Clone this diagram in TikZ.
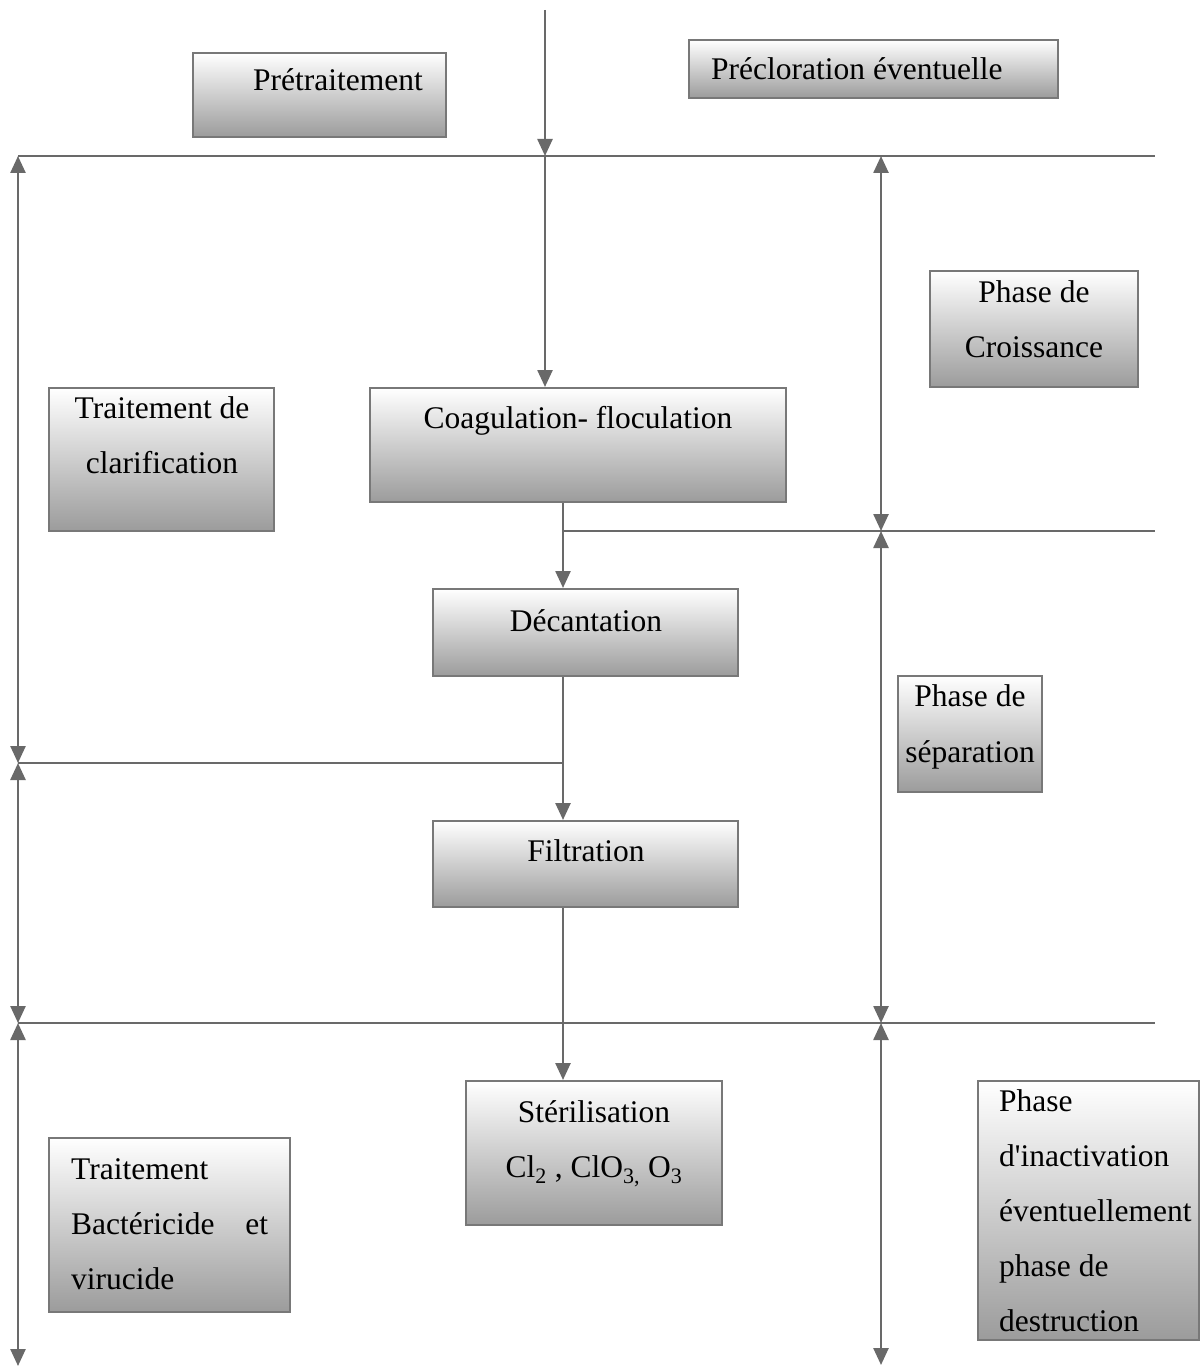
\documentclass[tikz,border=0pt]{standalone}
\usepackage{fontspec}
\setmainfont{Liberation Serif}[Ligatures={TeXOff,CommonOff}]
\usetikzlibrary{arrows.meta}
\definecolor{linegray}{RGB}{105,105,105}
\definecolor{framegray}{RGB}{120,120,120}
\tikzset{
  box/.style={draw=framegray, line width=2pt, rectangle, inner sep=0pt,
    top color=white, middle color=gray!22, bottom color=gray!78},
  txt/.style={anchor=base, inner sep=0pt, font=\fontsize{31.5}{55}\selectfont},
  ltxt/.style={txt, anchor=base west},
  conn/.style={draw=linegray, line width=2.5pt},
  tip/.style={-{Triangle[length=17pt,width=15pt]}},
  both/.style={{Triangle[length=17pt,width=15pt]}-{Triangle[length=17pt,width=15pt]}},
}
\newcommand{\boxat}[5]{% name, x1, y1, x2, y2
  \node[box, minimum width={#4-#2}, minimum height={#5-#3}] (#1) at ({(#2+#4)/2},{(#3+#5)/2}) {};}
\begin{document}
\begin{tikzpicture}[x=1pt,y=-1pt]
\useasboundingbox (0,0) rectangle (1201,1367);

% boxes
\boxat{pre}{193}{53}{446}{137}
\boxat{prec}{689}{40}{1058}{98}
\boxat{crois}{930}{271}{1138}{387}
\boxat{clar}{49}{388}{274}{531}
\boxat{coag}{370}{388}{786}{502}
\boxat{dec}{433}{589}{738}{676}
\boxat{sep}{898}{676}{1042}{792}
\boxat{filt}{433}{821}{738}{907}
\boxat{ster}{466}{1081}{722}{1225}
\boxat{bact}{49}{1138}{290}{1312}
\boxat{inact}{978}{1081}{1199}{1340}

% box texts
\node[txt] (preT) at (338,91) {Prétraitement};
\node[ltxt] (precT) at (711,80) {Précloration éventuelle};
\node[txt] (croisA) at (1034,302) {Phase de};
\node[txt] (croisB) at (1034,357) {Croissance};
\node[txt] (clarA) at (162,418) {Traitement de};
\node[txt] (clarB) at (162,473) {clarification};
\node[txt] (coagT) at (578,428) {Coagulation- floculation};
\node[txt] (decT) at (586,631) {Décantation};
\node[txt] (sepA) at (970,706) {Phase de};
\node[txt] (sepB) at (970,762) {séparation};
\node[txt] (filtT) at (586,861) {Filtration};
\node[txt] (sterA) at (594,1122) {Stérilisation};
\node[txt] (sterB) at (594,1177) {Cl\textsubscript{2} , ClO\textsubscript{3,} O\textsubscript{3}};
\node[ltxt] (bactA) at (71,1179) {Traitement};
\node[ltxt] (bactB) at (71,1234) {\hbox to 197pt{Bactéricide\hfill et}};
\node[ltxt] (bactC) at (71,1289) {virucide};
\node[ltxt] (inA) at (999,1111) {Phase};
\node[ltxt] (inB) at (999,1166) {d'inactivation};
\node[ltxt] (inC) at (999,1221) {éventuellement};
\node[ltxt] (inD) at (999,1276) {phase de};
\node[ltxt] (inE) at (999,1331) {destruction};

% reference points for the phase lines
\coordinate (top) at (545,10);
\coordinate (col) at (563,0);
\coordinate (h1L) at (18,156);   \coordinate (h1M) at (545,156);  \coordinate (h1R) at (1155,156);
\coordinate (h2L) at (563,531);  \coordinate (h2R) at (1155,531);
\coordinate (h3L) at (18,763);   \coordinate (h3R) at (563,763);
\coordinate (h4L) at (18,1023);  \coordinate (h4R) at (1155,1023);
\coordinate (lbot) at (18,1366);
\coordinate (r1) at (881,156);   \coordinate (r2) at (881,531);
\coordinate (r3) at (881,1023);  \coordinate (rbot) at (881,1365);

% horizontal phase separators
\draw[conn] (h1L) -- (h1R);
\draw[conn] (h2L) -- (h2R);
\draw[conn] (h3L) -- (h3R);
\draw[conn] (h4L) -- (h4R);

% main flow
\draw[conn, tip] (top) -- (h1M);
\draw[conn, tip] (h1M) -- (coag.north -| top);
\draw[conn, tip] (coag.south -| col) -- (dec.north -| col);
\draw[conn, tip] (dec.south -| col) -- (filt.north -| col);
\draw[conn, tip] (filt.south -| col) -- (ster.north -| col);

% left extent arrows
\draw[conn, both] (h1L) -- (h3L);
\draw[conn, both] (h3L) -- (h4L);
\draw[conn, both] (h4L) -- (lbot);

% right extent arrows
\draw[conn, both] (r1) -- (r2);
\draw[conn, both] (r2) -- (r3);
\draw[conn, both] (r3) -- (rbot);
\end{tikzpicture}
\end{document}
